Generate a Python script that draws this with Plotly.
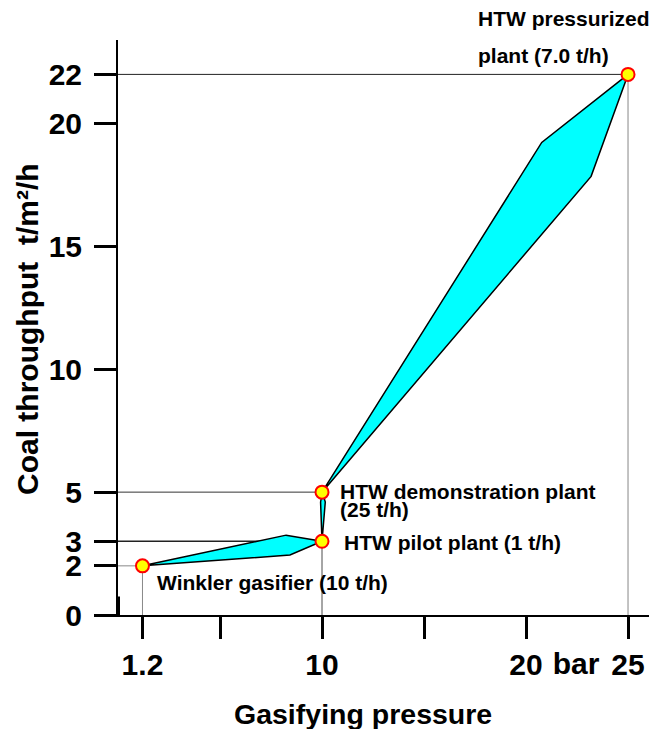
import plotly.graph_objects as go

# ---------------- data ----------------
plant_names = ["Winkler gasifier (10 t/h)", "HTW pilot plant (1 t/h)",
               "HTW demonstration plant (25 t/h)", "HTW pressurized plant (7.0 t/h)"]
plant_pressure = [1.2, 10, 10, 25]          # bar
plant_throughput = [2, 3, 5, 22]            # t/m²/h

# cyan development bands between successive plants (polygon vertices)
band1_x = [1.2, 8.24, 10, 8.43]
band1_y = [2, 3.25, 3, 2.44]
band2_x = [10, 10.16, 10.02, 9.93]
band2_y = [3, 4.6, 5, 4.6]
band3_x = [10, 20.77, 25, 23.19]
band3_y = [5, 19.23, 22, 17.85]

x_tickvals = [1.2, 5, 10, 15, 20, 25]
x_ticktext = ["1.2", "", "10", "", "20", "25"]
y_tickvals = [0, 2, 3, 5, 10, 15, 20, 22]
y_ticktext = ["0", "2", "3", "5", "10", "15", "20", "22"]
unit_pos = [22.45]
unit_text = ["bar"]

FONT = "Liberation Sans, Arial, sans-serif"

fig = go.Figure()

# reference lines from axes to each plant
h_colors = ["#888888", "#222222", "#333333", "#222222"]
h_widths = [1, 1.6, 1, 1]
for px, py, c, w in zip(plant_pressure, plant_throughput, h_colors, h_widths):
    fig.add_trace(go.Scatter(x=[0, px], y=[py, py], mode="lines",
                             line=dict(color=c, width=w), hoverinfo="skip",
                             showlegend=False, cliponaxis=False))
    fig.add_trace(go.Scatter(x=[px, px], y=[0, py], mode="lines",
                             line=dict(color="#888888", width=1), hoverinfo="skip",
                             showlegend=False))

for bx, by in [(band1_x, band1_y), (band2_x, band2_y), (band3_x, band3_y)]:
    fig.add_trace(go.Scatter(x=bx + bx[:1], y=by + by[:1], mode="lines", fill="toself",
                             fillcolor="#00FFFF", line=dict(color="black", width=1.5),
                             hoverinfo="skip", showlegend=False))

fig.add_trace(go.Scatter(x=plant_pressure, y=plant_throughput, mode="markers",
                         marker=dict(size=13, color="#FFFF00",
                                     line=dict(color="#FF0000", width=2)),
                         text=plant_names, hoverinfo="text", showlegend=False,
                         cliponaxis=False))

# invisible trace on an overlaid x axis that carries the "bar" unit label
fig.add_trace(go.Scatter(x=unit_pos, y=[0], xaxis="x2", mode="markers",
                         marker=dict(opacity=0), hoverinfo="skip", showlegend=False))

tfont = dict(family=FONT, size=21, color="black", weight="bold")
ann = [
    dict(x=17.55, y=1.037, yref="paper", text="HTW pressurized"),
    dict(x=17.55, y=0.973, yref="paper", text="plant (7.0 t/h)"),
    dict(x=10.78, y=5.02, text="HTW demonstration plant"),
    dict(x=10.78, y=4.3, text="(25 t/h)"),
    dict(x=10.98, y=2.95, text="HTW pilot plant (1 t/h)"),
    dict(x=1.81, y=1.33, text="Winkler gasifier (10 t/h)"),
]
for a in ann:
    fig.add_annotation(xref="x", yref=a.get("yref", "y"), x=a["x"], y=a["y"],
                       text=a["text"], showarrow=False, xanchor="left",
                       yanchor="middle", font=tfont)

# axis titles
fig.add_annotation(xref="paper", yref="paper", x=(363 - 118) / 539, y=(615 - 714) / 575,
                   text="Gasifying pressure", showarrow=False, xanchor="center",
                   yanchor="middle",
                   font=dict(family=FONT, size=28.5, color="black", weight="bold"))
fig.add_annotation(xref="paper", yref="paper", x=(27 - 118) / 539, y=(615 - 329) / 575,
                   text="Coal throughput&nbsp;&nbsp;t/m²/h", showarrow=False,
                   textangle=-90, xanchor="center", yanchor="middle",
                   font=dict(family=FONT, size=30, color="black", weight="bold"))

# small axis-break stub at the bottom of the y axis
fig.add_shape(type="line", xref="x", yref="y", x0=0, x1=0, y0=0, y1=0.75,
              line=dict(color="black", width=4))

tick_font = dict(family=FONT, size=30, color="black", weight="bold")
# the page adds an 8px body margin, so the figure is 8px smaller than the window
fig.update_layout(
    width=649, height=721,
    margin=dict(l=110, r=0, t=32, b=114),
    paper_bgcolor="white", plot_bgcolor="white",
    xaxis=dict(range=[0, 26.42], showgrid=False, zeroline=False,
               showline=True, linecolor="black", linewidth=2,
               ticks="outside", ticklen=22, tickwidth=3, tickcolor="black",
               tickvals=x_tickvals, ticktext=x_ticktext, ticklabelstandoff=0,
               tickfont=tick_font),
    xaxis2=dict(range=[0, 26.42], overlaying="x", side="bottom", anchor="y",
                showgrid=False, zeroline=False, showline=False,
                ticks="outside", ticklen=22, tickwidth=0, tickcolor="rgba(0,0,0,0)",
                tickvals=unit_pos, ticktext=unit_text, ticklabelstandoff=0,
                tickfont=tick_font),
    yaxis=dict(range=[0, 23.4], showgrid=False, zeroline=False,
               showline=True, linecolor="black", linewidth=2,
               ticks="outside", ticklen=22, tickwidth=3, tickcolor="black",
               tickvals=y_tickvals, ticktext=y_ticktext, ticklabelstandoff=6,
               tickfont=tick_font),
)

fig.write_html("out.html")
